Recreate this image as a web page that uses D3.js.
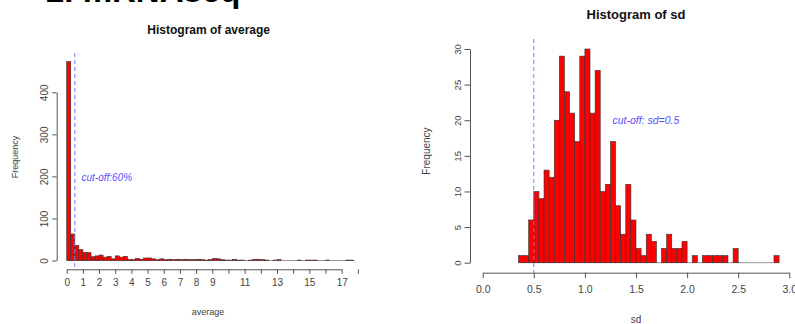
<!DOCTYPE html>
<html><head><meta charset="utf-8">
<script src="https://cdn.jsdelivr.net/npm/d3@7"></script>
<style>body{margin:0;background:#fff}svg{display:block;font-family:"Liberation Sans",Arial,sans-serif}</style>
</head><body>
<svg id="c" width="795" height="324"></svg>
<script>
// ---- data: left histogram (average), bin width 0.25 starting at 0 ----
const avgBinStart = 0, avgBinWidth = 0.25;
const avgCounts = [473,63,36,26,19,19,9,11,13,8,10,4,11,8,10,3,2,5,3,6,6,4,2,4,2,3,2,3,
  2,3,2,2,3,2,1,2,
  5,4,2,1,
  1,3,1,1,
  0,1,3,3,
  2,1,0,1,
  2,0,0,0,
  0,1,0,1,
  1,1,0,0,
  1,0,0,0,
  0,1,1];
const avgXTicks = d3.range(0, 19, 1);
const avgXLabels = [0,1,2,3,4,5,6,7,8,9,11,13,15,17];
const avgYTicks = [0,100,200,300,400];
const avgCutoff = 0.5;

// ---- data: right histogram (sd), bin width 0.05 starting at 0.35 ----
const sdBinStart = 0.35, sdBinWidth = 0.05;
const sdCounts = [1,1,6,10,9,13,12,20,29,24,21,17,29,30,21,27,10,11,17,8,4,11,6,2,1,4,3,0,2,4,2,2,3,0,1,0,1,1,1,1,1,0,2,0,0,0,0,0,0,0,1];
const sdXTicks = [0,0.5,1,1.5,2,2.5,3];
const sdYTicks = [0,5,10,15,20,25,30];
const sdCutoff = 0.5;

const svg = d3.select("#c");
const font = '"Liberation Sans",Arial,sans-serif';
const txt = "#444";

// slide title (cut off at top)
svg.append("text").attr("x",46).attr("y",2).attr("font-size",33).attr("font-weight","bold")
  .attr("fill","#000").text("2. mRNAseq");

function hist(o){
  const g = svg.append("g");
  const x = d3.scaleLinear().domain(o.xDomain).range(o.xRange);
  const y = d3.scaleLinear().domain(o.yDomain).range(o.yRange);
  const bins = o.counts.map((c,i)=>({x0:o.start+i*o.bw, x1:o.start+(i+1)*o.bw, c}));
  // baseline for empty bins
  g.append("line").attr("x1",x(bins[0].x0)).attr("x2",x(bins[bins.length-1].x1))
    .attr("y1",y(0)).attr("y2",y(0)).attr("stroke","#999").attr("stroke-width",1);
  g.selectAll("rect.bar").data(bins.filter(b=>b.c>0)).join("rect")
    .attr("x",d=>x(d.x0)).attr("width",d=>x(d.x1)-x(d.x0))
    .attr("y",d=>y(d.c)).attr("height",d=>y(0)-y(d.c))
    .attr("fill","#ff0000").attr("stroke","#333").attr("stroke-width",0.6);
  // y axis
  const ya = g.append("g").attr("transform",`translate(${o.yAxisX},0)`)
    .call(d3.axisLeft(y).tickValues(o.yTicks).tickSize(o.tick).tickPadding(3).tickSizeOuter(0));
  ya.select(".domain").attr("stroke","#555");
  ya.selectAll(".tick line").attr("stroke","#555");
  ya.selectAll(".tick text").attr("fill",txt).attr("font-size",o.yFont).attr("font-family",font)
    .attr("transform","rotate(-90)").attr("text-anchor","middle").attr("x",0).attr("y",-o.tick-o.yLabOff).attr("dy","0");
  // x axis
  const xa = g.append("g").attr("transform",`translate(0,${o.xAxisY})`)
    .call(d3.axisBottom(x).tickValues(o.xTicks).tickSize(o.tick).tickPadding(o.xPad).tickSizeOuter(0)
      .tickFormat(o.xFmt));
  xa.select(".domain").attr("stroke","#555");
  xa.selectAll(".tick line").attr("stroke","#555");
  xa.selectAll(".tick text").attr("fill",txt).attr("font-size",o.xFont).attr("font-family",font);
  // titles
  svg.append("text").attr("x",o.titleX).attr("y",o.titleY).attr("text-anchor","middle")
    .attr("font-size",o.titleFont).attr("font-weight","bold").attr("fill","#111").text(o.title);
  svg.append("text").attr("x",o.xLabX).attr("y",o.xLabY).attr("text-anchor","middle")
    .attr("font-size",o.labFont).attr("fill",txt).text(o.xLab);
  svg.append("text").attr("transform",`translate(${o.yLabX},${o.yLabY}) rotate(-90)`).attr("text-anchor","middle")
    .attr("font-size",o.labFont).attr("fill",txt).text("Frequency");
  // cutoff
  g.append("line").attr("x1",x(o.cut)).attr("x2",x(o.cut)).attr("y1",o.cutTop).attr("y2",o.cutBot)
    .attr("stroke","#7b7bff").attr("stroke-width",1).attr("stroke-dasharray","4,3");
  svg.append("text").attr("x",o.cutTx).attr("y",o.cutTy).attr("font-size",o.cutFont)
    .attr("font-style","italic").attr("fill","#5050ff").text(o.cutText);
}

hist({counts:avgCounts,start:avgBinStart,bw:avgBinWidth,
  xDomain:[0,17],xRange:[66.7,341.7],yDomain:[0,400],yRange:[260.5,92.3],
  yTicks:avgYTicks,xTicks:avgXTicks,
  xFmt:d=>avgXLabels.includes(d)?String(d):"",
  yAxisX:56.7,xAxisY:269.3,tick:4.5,yLabOff:4,yFont:10,xFont:10,xPad:5,
  title:"Histogram of average",titleX:208.7,titleY:34,titleFont:12,
  xLab:"average",xLabX:208,xLabY:315,yLabX:18,yLabY:157,labFont:9,
  cut:avgCutoff,cutTop:53,cutBot:269,cutTx:81.5,cutTy:180.5,cutFont:10,cutText:"cut-off:60%"});

hist({counts:sdCounts,start:sdBinStart,bw:sdBinWidth,
  xDomain:[0,3],xRange:[482.7,789.3],yDomain:[0,30],yRange:[262.7,49],
  yTicks:sdYTicks,xTicks:sdXTicks,
  xFmt:d3.format(".1f"),
  yAxisX:470,xAxisY:272.7,tick:5.5,yLabOff:4,yFont:9.5,xFont:10.5,xPad:7,
  title:"Histogram of sd",titleX:636,titleY:18.5,titleFont:13,
  xLab:"sd",xLabX:636,xLabY:323,yLabX:430,yLabY:151,labFont:10,
  cut:sdCutoff,cutTop:39,cutBot:277,cutTx:612.5,cutTy:124,cutFont:10.5,cutText:"cut-off: sd=0.5"});
</script>
</body></html>
